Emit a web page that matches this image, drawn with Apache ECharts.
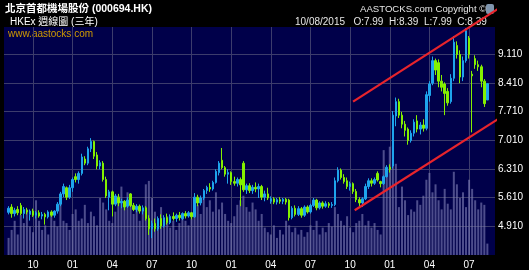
<!DOCTYPE html>
<html><head><meta charset="utf-8">
<script src="https://cdn.jsdelivr.net/npm/echarts@6/dist/echarts.min.js"></script>
<style>html,body{margin:0;padding:0;background:#000}#c{width:529px;height:270px}</style>
</head><body><div id="c"></div>
<script>
// ---- data ----
const firstSlotMonday = '2012-07-30';   // slot 0 (empty), candles start at slot 1 (2012-08-06)
const slotCount = 161;
const firstCandleSlot = 1;
// weekly candles [open, high, low, close]
const weeklyOHLC = [
[5.25,5.40,5.20,5.35],[5.38,5.45,5.12,5.22],[5.22,5.36,5.15,5.30],[5.32,5.40,5.18,5.24],[5.42,5.48,5.18,5.22],
[5.22,5.38,5.10,5.32],[5.30,5.36,5.20,5.26],[5.20,5.32,5.05,5.28],[5.28,5.34,5.14,5.18],[5.18,5.28,5.10,5.24],
[5.24,5.30,5.12,5.16],[5.16,5.26,5.08,5.20],[5.20,5.24,4.95,5.14],[5.14,5.30,5.10,5.26],[5.26,5.30,5.14,5.18],
[5.18,5.30,5.12,5.28],[5.28,5.50,5.22,5.45],[5.45,5.75,5.40,5.70],[5.70,5.95,5.62,5.88],[5.85,5.88,5.55,5.62],
[5.62,5.92,5.58,5.85],[5.85,6.10,5.75,6.05],[6.12,6.20,5.98,6.05],[6.05,6.25,5.95,6.20],[6.20,6.68,6.15,6.60],
[6.55,6.62,6.40,6.45],[6.45,6.85,6.40,6.80],[6.80,7.06,6.72,6.98],[6.98,7.00,6.55,6.62],[6.65,6.72,6.30,6.38],
[6.38,6.52,6.30,6.46],[6.45,6.50,6.00,6.05],[6.05,6.12,5.60,5.65],[5.62,5.80,5.30,5.75],[5.75,5.78,5.15,5.45],
[5.45,5.70,5.40,5.65],[5.62,5.70,5.40,5.48],[5.48,5.58,5.35,5.52],[5.52,5.55,5.30,5.38],[5.40,5.62,5.36,5.55],
[5.70,5.72,5.38,5.42],[5.42,5.48,5.28,5.32],[5.32,5.45,5.25,5.40],[5.40,5.44,5.22,5.28],[5.28,5.42,5.20,5.36],
[5.36,5.40,5.05,5.10],[5.10,5.18,4.70,4.85],[4.85,5.05,4.62,4.98],[4.98,5.10,4.78,4.85],[4.85,5.15,4.80,5.10],
[5.10,5.20,4.85,4.92],[4.92,5.18,4.88,5.12],[5.12,5.22,4.95,5.00],[5.00,5.20,4.96,5.15],[5.15,5.25,5.05,5.10],
[5.10,5.22,5.02,5.18],[5.18,5.26,5.05,5.12],[5.10,5.25,5.06,5.22],[5.22,5.28,5.10,5.16],[5.16,5.28,5.12,5.24],
[5.24,5.26,5.08,5.14],[5.14,5.72,5.12,5.62],[5.62,5.68,5.40,5.48],[5.48,5.66,5.42,5.60],[5.60,5.82,5.55,5.78],
[5.78,5.90,5.70,5.86],[5.86,5.96,5.75,5.82],[5.82,6.02,5.78,5.98],[5.98,6.30,5.95,6.25],[6.22,6.50,6.15,6.45],
[6.52,6.82,6.30,6.34],[6.34,6.38,6.12,6.18],[6.18,6.30,5.95,6.22],[6.22,6.25,5.92,6.00],[6.00,6.12,5.90,5.96],
[5.96,6.10,5.88,6.05],[6.05,6.10,5.40,5.92],[6.45,6.50,5.75,5.80],[5.80,5.95,5.70,5.90],[5.90,5.96,5.72,5.78],
[5.78,5.92,5.70,5.86],[5.86,5.98,5.74,5.82],[5.82,5.95,5.60,5.88],[5.88,5.92,5.55,5.62],[5.62,5.78,5.52,5.70],
[5.70,5.85,5.55,5.60],[5.52,5.64,5.46,5.58],[5.58,5.62,5.45,5.50],[5.50,5.60,5.44,5.56],[5.56,5.62,5.46,5.52],
[5.52,5.60,5.45,5.57],[5.57,5.60,5.44,5.50],[5.55,5.58,5.05,5.12],[5.12,5.40,5.08,5.35],[5.35,5.42,5.15,5.20],
[5.20,5.40,5.16,5.34],[5.34,5.38,5.12,5.18],[5.18,5.42,5.14,5.38],[5.38,5.42,5.22,5.26],[5.26,5.46,5.22,5.42],
[5.42,5.60,5.38,5.55],[5.55,5.58,5.30,5.36],[5.36,5.52,5.32,5.48],[5.48,5.52,5.34,5.40],[5.40,5.52,5.36,5.46],
[5.46,5.50,5.36,5.42],[5.42,5.50,5.36,5.44],[5.44,6.10,5.40,6.02],[6.02,6.35,5.98,6.28],[6.28,6.32,6.05,6.10],
[6.10,6.18,5.95,6.00],[6.02,6.10,5.82,5.88],[5.88,6.00,5.78,5.95],[5.95,5.98,5.70,5.76],[5.76,5.82,5.50,5.56],
[5.56,5.62,5.40,5.48],[5.48,5.62,5.38,5.58],[5.58,5.95,5.55,5.88],[5.88,6.08,5.82,6.02],[6.02,6.08,5.88,5.96],
[5.96,6.10,5.92,6.05],[6.20,6.25,6.00,6.04],[6.00,6.02,5.86,5.95],[5.95,6.15,5.92,6.12],[6.12,6.40,6.10,6.35],
[6.35,6.42,6.22,6.30],[6.38,7.72,6.32,7.62],[7.60,8.05,7.35,7.95],[7.95,8.02,7.55,7.62],[7.62,7.70,7.30,7.40],
[7.40,7.48,7.10,7.25],[7.28,7.32,6.90,7.00],[7.00,7.25,6.95,7.18],[7.18,7.52,7.10,7.45],[7.48,7.62,7.20,7.28],
[7.28,7.45,7.15,7.38],[7.38,7.52,7.22,7.30],[7.30,8.20,7.25,8.12],[8.10,8.45,7.95,8.38],[8.40,9.05,8.35,8.95],
[8.95,9.00,8.60,8.72],[8.90,8.98,8.30,8.45],[8.45,8.60,8.20,8.30],[8.38,8.42,7.62,8.15],[8.20,8.28,7.85,7.92],
[7.95,8.62,7.90,8.52],[8.52,9.55,8.45,9.40],[9.32,9.42,9.00,9.10],[9.10,9.20,8.40,8.55],[8.55,9.05,8.45,8.95],
[8.95,9.74,8.90,9.68],[9.50,9.55,9.00,9.10],[8.62,8.70,7.20,8.58],[9.00,9.08,8.75,8.85],[8.85,8.95,8.70,8.80],
[8.80,8.85,8.30,8.45],[8.45,8.50,7.82,7.90],[7.99,8.39,7.99,8.39]
];
// weekly volume (millions of shares)
const weeklyVolume = [
15,22,30,18,35,28,40,25,20,
48,30,22,26,18,35,30,25,
45,30,28,22,36,40,30,32,44,
28,38,34,26,50,46,40,30,28,
38,52,60,44,55,48,36,42,30,
40,62,65,50,38,30,42,28,34,
24,30,22,28,36,30,26,32,40,
44,36,50,42,48,38,55,40,46,
36,30,28,34,44,48,52,42,38,
46,40,30,36,24,20,18,26,15,
22,18,30,26,20,24,18,22,16,
20,26,22,30,18,24,20,28,25,
42,36,30,26,34,24,20,28,30,
36,26,30,24,28,22,18,92,70,
95,96,80,42,60,48,35,40,38,
48,44,52,66,72,55,62,48,40,
58,45,40,73,62,50,55,42,66,
58,48,40,46,44,10
];
const priceAxis = {min: 4.21, max: 9.77, interval: 0.7};
const volumeAxisMax = 200;
// trend lines: [week slot, price]
const trendUpper = [[113.95, 7.95], [162.7, 10.27]];
const trendLower = [[114.5, 5.30], [163.1, 7.60]];
const quarterMonths = [1, 4, 7, 10];

// ---- build ----
const slotDates = [];
const quarterSlot = [];
const quarterLabel = [];
{
  const d0 = new Date(firstSlotMonday + 'T00:00:00Z');
  for (let i = 0; i < slotCount; i++) {
    const d = new Date(d0.getTime() + i * 7 * 86400000);
    const sun = new Date(d.getTime() + 6 * 86400000);
    slotDates.push(d.toISOString().slice(0, 10));
    const m = sun.getUTCMonth() + 1;
    const isQ = sun.getUTCDate() <= 7 && quarterMonths.indexOf(m) >= 0;
    quarterSlot.push(isQ);
    quarterLabel.push(isQ ? String(m).padStart(2, '0') : '');
  }
}
const candleData = [], volData = [];
for (let i = 0; i < slotCount; i++) {
  const k = i - firstCandleSlot;
  if (k >= 0 && k < weeklyOHLC.length) {
    const r = weeklyOHLC[k];
    candleData.push([r[0], r[3], r[2], r[1]]);
    volData.push(weeklyVolume[k]);
  } else { candleData.push('-'); volData.push('-'); }
}
const last = weeklyOHLC[weeklyOHLC.length - 1];
const lastDate = slotDates[firstCandleSlot + weeklyOHLC.length - 1];
const lastDateStr = lastDate.slice(8, 10) + '/' + lastDate.slice(5, 7) + '/' + lastDate.slice(0, 4);
const ohlcText = lastDateStr + '   O:' + last[0].toFixed(2) + '  H:' + last[1].toFixed(2) +
  '  L:' + last[2].toFixed(2) + '  C:' + last[3].toFixed(2);

const FONT = '"Liberation Sans", Arial, "Noto Sans CJK TC", sans-serif';
const chart = echarts.init(document.getElementById('c'), null, {renderer: 'canvas'});
chart.setOption({
  animation: false,
  backgroundColor: '#000000',
  textStyle: {fontFamily: FONT},
  grid: {left: 4, right: 34, top: 27, bottom: 15, show: true, backgroundColor: '#00004a', borderWidth: 0},
  graphic: [
    {type: 'text', left: 5, top: 4, z: 0, style: {text: '北京首都機場股份 (000694.HK)', fill: '#ffffff', font: 'bold 10.5px ' + FONT}},
    {type: 'text', left: 10, top: 17, z: 0, style: {text: 'HKEx 週線圖 (三年)', fill: '#ffffff', font: '10px ' + FONT}},
    {type: 'text', left: 8, top: 29, z: 0, style: {text: 'www.aastocks.com', fill: '#d09a00', font: '10px ' + FONT}},
    {type: 'rect', left: 486, top: 4, z: 0, shape: {width: 8, height: 10, r: 2}, style: {fill: '#7f95ad'}},
    {type: 'text', left: 360, top: 5, z: 1, style: {text: 'AASTOCKS.com Copyright ©', fill: '#e6e6e6', font: '9.6px ' + FONT}},
    {type: 'text', left: 295, top: 17, z: 1, style: {text: ohlcText, fill: '#e6e6e6', font: '10px ' + FONT}}
  ],
  xAxis: [{
    type: 'category', data: slotDates, boundaryGap: true, gridIndex: 0,
    axisLine: {show: false}, axisTick: {show: false},
    axisLabel: {
      interval: function (i) { return quarterSlot[i]; },
      formatter: function (v, i) { return quarterLabel[i]; },
      color: '#ffffff', fontSize: 10, margin: 5, fontFamily: FONT
    },
    splitLine: {show: true, alignWithLabel: true, interval: function (i) { return quarterSlot[i]; },
      lineStyle: {color: '#3c3c6c', width: 1}}
  }, {
    type: 'value', min: -0.5, max: slotCount - 0.5, show: false, gridIndex: 0, splitLine: {show: false}
  }],
  yAxis: [{
    type: 'value', position: 'right', min: priceAxis.min, max: priceAxis.max, interval: priceAxis.interval,
    axisLine: {show: false}, axisTick: {show: false},
    axisLabel: {color: '#ffffff', fontSize: 10, margin: 3, showMinLabel: false, showMaxLabel: false,
      formatter: function (v) { return v.toFixed(3); }, fontFamily: FONT},
    splitLine: {show: true, showMinLine: false, showMaxLine: false, lineStyle: {color: '#3c3c6c', width: 1}}
  }, {
    type: 'value', min: 0, max: volumeAxisMax, show: false, splitLine: {show: false}
  }],
  series: [{
    type: 'bar', xAxisIndex: 0, yAxisIndex: 1, data: volData, barWidth: 2, z: 1,
    itemStyle: {color: 'rgba(125,125,180,0.62)'}
  }, {
    type: 'candlestick', xAxisIndex: 0, yAxisIndex: 0, data: candleData, barWidth: 2, z: 3,
    itemStyle: {color: '#1ea4ec', borderColor: '#1ea4ec', color0: '#84f000', borderColor0: '#84f000', borderWidth: 1}
  }, {
    type: 'line', xAxisIndex: 1, yAxisIndex: 0, data: trendUpper, clip: false, symbol: 'none', z: 5,
    lineStyle: {color: '#e8242c', width: 2.2}
  }, {
    type: 'line', xAxisIndex: 1, yAxisIndex: 0, data: trendLower, clip: false, symbol: 'none', z: 5,
    lineStyle: {color: '#e8242c', width: 2.2}
  }]
});
</script></body></html>
